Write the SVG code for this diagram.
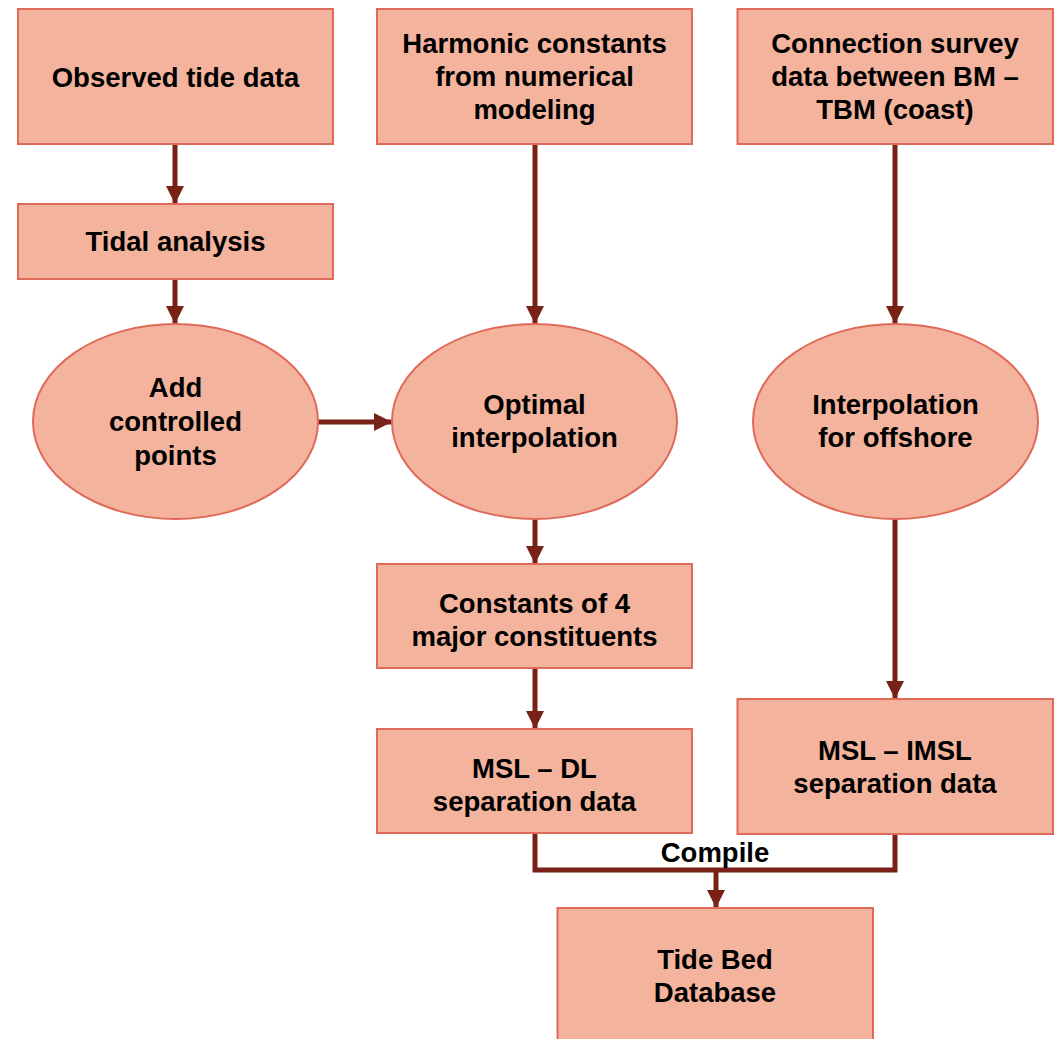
<svg xmlns="http://www.w3.org/2000/svg" width="1056" height="1039" viewBox="0 0 1056 1039">
<defs>
<style>
.n{fill:#f4b39c;stroke:#e06a5a;stroke-width:2}
.t{font-family:"Liberation Sans",Arial,sans-serif;font-weight:bold;font-size:27.5px;fill:#000;text-anchor:middle}
.c{fill:none;stroke:#782116;stroke-width:5}
</style>
<marker id="ah" markerUnits="userSpaceOnUse" markerWidth="18" markerHeight="18" refX="18" refY="9" orient="auto" viewBox="0 0 18 18">
<path d="M0,0 L18,9 L0,18 z" fill="#782116"/>
</marker>
</defs>
<rect width="1056" height="1039" fill="#fff"/>
<g id="connectors">
<path class="c" d="M175,144 V204" marker-end="url(#ah)"/>
<path class="c" d="M175,279 V324" marker-end="url(#ah)"/>
<path class="c" d="M535,144 V324" marker-end="url(#ah)"/>
<path class="c" d="M895,144 V324" marker-end="url(#ah)"/>
<path class="c" d="M318,422 H392" marker-end="url(#ah)"/>
<path class="c" d="M535,519 V564" marker-end="url(#ah)"/>
<path class="c" d="M535,668 V729" marker-end="url(#ah)"/>
<path class="c" d="M895,519 V699" marker-end="url(#ah)"/>
<path class="c" d="M535,833 V870 H895 V834"/>
<path class="c" d="M716,870 V908" marker-end="url(#ah)"/>
<text class="t" x="715" y="862">Compile</text>
</g>
<g id="observed"><rect class="n" x="18" y="9" width="315" height="135"/><text class="t" x="175.5" y="87">Observed tide data</text></g>
<g id="harmonic"><rect class="n" x="377" y="9" width="315" height="135"/><text class="t" x="534.5" y="53">Harmonic constants</text><text class="t" x="534.5" y="86">from numerical</text><text class="t" x="534.5" y="119">modeling</text></g>
<g id="connection"><rect class="n" x="737.5" y="9" width="315.5" height="135"/><text class="t" x="895" y="53">Connection survey</text><text class="t" x="895" y="86">data between BM –</text><text class="t" x="895" y="119">TBM (coast)</text></g>
<g id="tidal"><rect class="n" x="18" y="204" width="315" height="75"/><text class="t" x="175.5" y="251">Tidal analysis</text></g>
<g id="addpoints"><ellipse class="n" cx="175.5" cy="421.5" rx="142.5" ry="97.5"/><text class="t" x="175.5" y="397">Add</text><text class="t" x="175.5" y="431">controlled</text><text class="t" x="175.5" y="465">points</text></g>
<g id="optimal"><ellipse class="n" cx="534.5" cy="421.5" rx="142.5" ry="97.5"/><text class="t" x="534.5" y="414">Optimal</text><text class="t" x="534.5" y="447">interpolation</text></g>
<g id="offshore"><ellipse class="n" cx="895.5" cy="421.5" rx="142.5" ry="97.5"/><text class="t" x="895.5" y="414">Interpolation</text><text class="t" x="895.5" y="447">for offshore</text></g>
<g id="constants"><rect class="n" x="377" y="564" width="315" height="104"/><text class="t" x="534.5" y="613">Constants of 4</text><text class="t" x="534.5" y="646">major constituents</text></g>
<g id="msldl"><rect class="n" x="377" y="729" width="315" height="104"/><text class="t" x="534.5" y="778">MSL – DL</text><text class="t" x="534.5" y="811">separation data</text></g>
<g id="mslimsl"><rect class="n" x="737.5" y="699" width="315.5" height="135"/><text class="t" x="895" y="760">MSL – IMSL</text><text class="t" x="895" y="793">separation data</text></g>
<g id="tidebed"><rect class="n" x="557.5" y="908" width="315.5" height="140"/><text class="t" x="715" y="969">Tide Bed</text><text class="t" x="715" y="1002">Database</text></g>
</svg>
